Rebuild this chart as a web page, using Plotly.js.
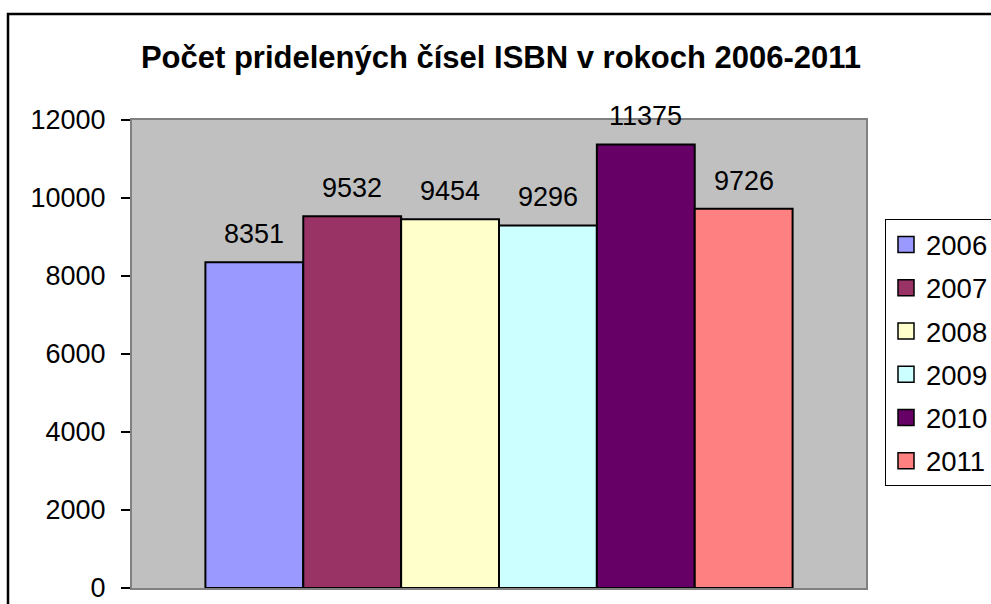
<!DOCTYPE html>
<html>
<head>
<meta charset="utf-8">
<script src="https://cdn.plot.ly/plotly-3.0.1.min.js"></script>
<style>html,body{margin:0;padding:0;background:#fff;}#chart{width:991px;height:604px;}</style>
</head>
<body>
<div id="chart"></div>
<script>
const years = ["2006", "2007", "2008", "2009", "2010", "2011"];
const counts = [8351, 9532, 9454, 9296, 11375, 9726];
const colors = ["#9999FF", "#993366", "#FFFFCC", "#CCFFFF", "#660066", "#FF8080"];
const yTicks = [0, 2000, 4000, 6000, 8000, 10000, 12000];
const titleText = "Počet pridelených čísel ISBN v rokoch 2006-2011";

const FONT = "Liberation Sans, Arial, sans-serif";
const PL = 132, PR = 866, PT = 120, PB = 588;
const PW = PR - PL, PH = PB - PT;

const traces = [];
years.forEach((yr, i) => {
  traces.push({
    type: "bar",
    x: [i],
    y: [counts[i]],
    width: 1,
    name: yr,
    showlegend: false,
    marker: {color: colors[i], line: {color: "#000", width: 2}},
    hoverinfo: "name+y"
  });
});
years.forEach((yr, i) => {
  traces.push({
    type: "scatter",
    mode: "markers",
    x: [null],
    y: [null],
    name: yr,
    legendgroup: yr,
    showlegend: true,
    marker: {symbol: "square", size: 16, color: colors[i], line: {color: "#000", width: 1.5}}
  });
});

const annotations = years.map((yr, i) => ({
  x: i, y: counts[i], xref: "x", yref: "y",
  text: String(counts[i]), showarrow: false,
  yanchor: "middle", yshift: 28,
  font: {family: FONT, size: 27, color: "#000"}
}));

const layout = {
  width: 991, height: 604,
  margin: {l: PL, r: 991 - PR, t: PT, b: 604 - PB, pad: 0, autoexpand: false},
  paper_bgcolor: "#fff",
  plot_bgcolor: "#C0C0C0",
  font: {family: FONT, size: 27, color: "#000"},
  title: {
    text: "<b>" + titleText + "</b>",
    x: 501 / 991, xanchor: "center", y: 1 - 57 / 604, yanchor: "middle",
    font: {family: FONT, size: 31, color: "#000"}
  },
  barmode: "group",
  xaxis: {
    range: [-1.25, 6.25], showticklabels: false, ticks: "", showgrid: false, zeroline: false,
    showline: true, linecolor: "#808080", linewidth: 2, mirror: true, fixedrange: true
  },
  yaxis: {
    range: [0, 12000], tickvals: yTicks, ticktext: yTicks.map(String),
    ticks: "outside", ticklen: 9, tickwidth: 1.5, tickcolor: "#000",
    ticklabelstandoff: 10,
    showgrid: false, zeroline: false,
    showline: true, linecolor: "#808080", linewidth: 2, mirror: true,
    tickfont: {family: FONT, size: 27, color: "#000"}, fixedrange: true
  },
  legend: {
    x: (885 - PL) / PW, xanchor: "left",
    y: (PB - 219) / PH, yanchor: "top",
    bgcolor: "#fff", bordercolor: "#000", borderwidth: 1,
    font: {family: FONT, size: 27.5, color: "#000"},
    tracegroupgap: 4.5, itemwidth: 30
  },
  annotations: annotations,
  shapes: [{
    type: "rect", xref: "paper", yref: "paper", layer: "below",
    x0: (8 - PL) / PW, x1: (1010 - PL) / PW,
    y0: (PB - 640) / PH, y1: (PB - 14) / PH,
    line: {color: "#000", width: 2.5}, fillcolor: "rgba(0,0,0,0)"
  }]
};

Plotly.newPlot("chart", traces, layout, {displayModeBar: false, staticPlot: true});
</script>
</body>
</html>
